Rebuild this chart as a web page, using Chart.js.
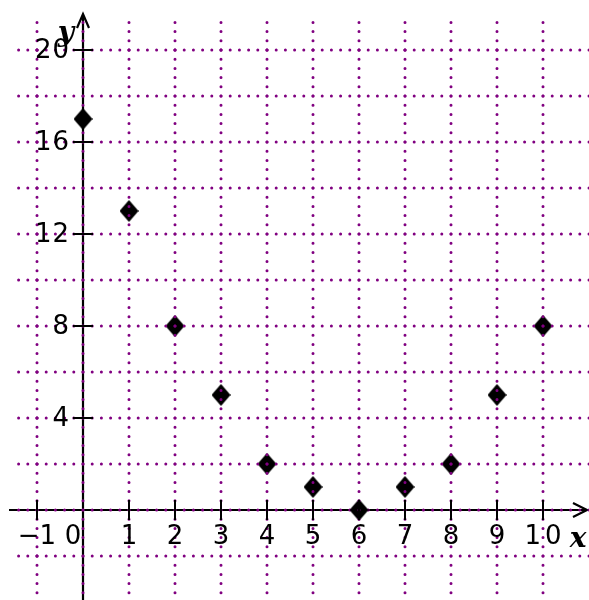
<!DOCTYPE html>
<html>
<head>
<meta charset="utf-8">
<script src="https://cdn.jsdelivr.net/npm/chart.js@4/dist/chart.umd.min.js"></script>
<style>
  body { margin: 0; background: #fff; }
  #wrap { width: 589px; height: 600px; }
</style>
</head>
<body>
<div id="wrap"><canvas id="plot"></canvas></div>
<script>
// points
const xValues = [0, 1, 2, 3, 4, 5, 6, 7, 8, 9, 10];
const yValues = [17, 13, 8, 5, 2, 1, 0, 1, 2, 5, 8];

// grid and tick positions
const gridX = [-1, 0, 1, 2, 3, 4, 5, 6, 7, 8, 9, 10];
const gridY = [-2, 0, 2, 4, 6, 8, 10, 12, 14, 16, 18, 20];
const xTicks = [-1, 1, 2, 3, 4, 5, 6, 7, 8, 9, 10];
const xTickLabels = ['\u22121', '1', '2', '3', '4', '5', '6', '7', '8', '9', '10'];
const yTicks = [4, 8, 12, 16, 20];
const yTickLabels = ['4', '8', '12', '16', '20'];

const GRID_COLOR = '#800080';
const LABEL_FONT = '26px "DejaVu Sans"';

// diamond marker, a bit taller than wide
function makeDiamond(w, h) {
  const c = document.createElement('canvas');
  c.width = w; c.height = h;
  const g = c.getContext('2d');
  g.fillStyle = '#000';
  g.beginPath();
  g.moveTo(w / 2, 0);
  g.lineTo(w, h / 2);
  g.lineTo(w / 2, h);
  g.lineTo(0, h / 2);
  g.closePath();
  g.fill();
  return c;
}

function dotLine(ctx, x1, y1, x2, y2) {
  ctx.save();
  ctx.strokeStyle = GRID_COLOR;
  ctx.lineWidth = 3;
  ctx.lineCap = 'round';
  ctx.setLineDash([0, 9.2]);
  ctx.beginPath();
  ctx.moveTo(x1, y1);
  ctx.lineTo(x2, y2);
  ctx.stroke();
  ctx.restore();
}

function drawGrid(chart, onAxes) {
  const ctx = chart.ctx;
  const xs = chart.scales.x, ys = chart.scales.y;
  const W = chart.width, H = chart.height;
  gridX.forEach(v => {
    if ((v === 0) !== onAxes) return;
    const px = xs.getPixelForValue(v);
    dotLine(ctx, px, ys.getPixelForValue(20), px, H);
    dotLine(ctx, px, ys.getPixelForValue(20), px, 15);
  });
  gridY.forEach(v => {
    if ((v === 0) !== onAxes) return;
    const py = ys.getPixelForValue(v);
    dotLine(ctx, xs.getPixelForValue(-1), py, 17, py);
    dotLine(ctx, xs.getPixelForValue(-1), py, W, py);
  });
}

const mathAxes = {
  id: 'mathAxes',
  beforeDatasetsDraw(chart) {
    const ctx = chart.ctx;
    const xs = chart.scales.x, ys = chart.scales.y;
    const x0 = xs.getPixelForValue(0), y0 = ys.getPixelForValue(0);
    const W = chart.width, H = chart.height;
    ctx.save();
    ctx.strokeStyle = '#000';
    ctx.lineWidth = 2.2;
    ctx.beginPath();
    // x axis with open arrow
    ctx.moveTo(9, y0); ctx.lineTo(W - 2, y0);
    ctx.moveTo(W - 16, y0 - 7); ctx.lineTo(W - 2, y0); ctx.lineTo(W - 16, y0 + 7);
    // y axis with open arrow
    ctx.moveTo(x0, H); ctx.lineTo(x0, 14);
    ctx.moveTo(x0 - 6, 28); ctx.lineTo(x0, 14); ctx.lineTo(x0 + 6, 28);
    ctx.stroke();
    ctx.restore();
    drawGrid(chart, true);
  },
  afterDatasetsDraw(chart) {
    const ctx = chart.ctx;
    const xs = chart.scales.x, ys = chart.scales.y;
    const x0 = xs.getPixelForValue(0), y0 = ys.getPixelForValue(0);
    drawGrid(chart, false);

    ctx.save();
    ctx.strokeStyle = '#000';
    ctx.lineWidth = 2;
    ctx.beginPath();
    xTicks.forEach(v => {
      const px = xs.getPixelForValue(v);
      ctx.moveTo(px, y0 - 10); ctx.lineTo(px, y0 + 10);
    });
    yTicks.forEach(v => {
      const py = ys.getPixelForValue(v);
      ctx.moveTo(x0 - 10, py); ctx.lineTo(x0 + 10, py);
    });
    ctx.stroke();

    ctx.fillStyle = '#000';
    ctx.font = LABEL_FONT;
    ctx.textBaseline = 'middle';
    ctx.textAlign = 'center';
    xTicks.forEach((v, i) => {
      const lbl = xTickLabels[i];
      ctx.letterSpacing = lbl === '10' ? '4px' : '0px';
      ctx.fillText(lbl, xs.getPixelForValue(v) + (lbl === '10' ? 2 : 0), y0 + 27);
    });
    ctx.letterSpacing = '0px';
    ctx.fillText('0', x0 - 10, y0 + 27);
    ctx.textAlign = 'right';
    ctx.letterSpacing = '1px';
    yTicks.forEach((v, i) => {
      ctx.fillText(yTickLabels[i], x0 - 13, ys.getPixelForValue(v) + 1);
    });

    ctx.letterSpacing = '0px';
    ctx.font = 'bold italic 28px "DejaVu Serif"';
    ctx.textAlign = 'center';
    ctx.fillText('x', chart.width - 11, y0 + 30);
    ctx.fillText('y', x0 - 17, 34);
    ctx.restore();
  }
};

new Chart(document.getElementById('plot'), {
  type: 'scatter',
  data: {
    datasets: [{
      data: xValues.map((x, i) => ({ x: x, y: yValues[i] })),
      pointStyle: makeDiamond(19, 22),
      pointRadius: 11,
      backgroundColor: '#000',
      borderColor: '#000'
    }]
  },
  options: {
    responsive: true,
    maintainAspectRatio: false,
    animation: false,
    layout: { padding: 0, autoPadding: false },
    plugins: { legend: { display: false }, tooltip: { enabled: false } },
    scales: {
      x: { type: 'linear', min: -83 / 46, max: 506 / 46, display: false },
      y: { type: 'linear', min: -90 / 23, max: 510 / 23, display: false }
    }
  },
  plugins: [mathAxes]
});
</script>
</body>
</html>
